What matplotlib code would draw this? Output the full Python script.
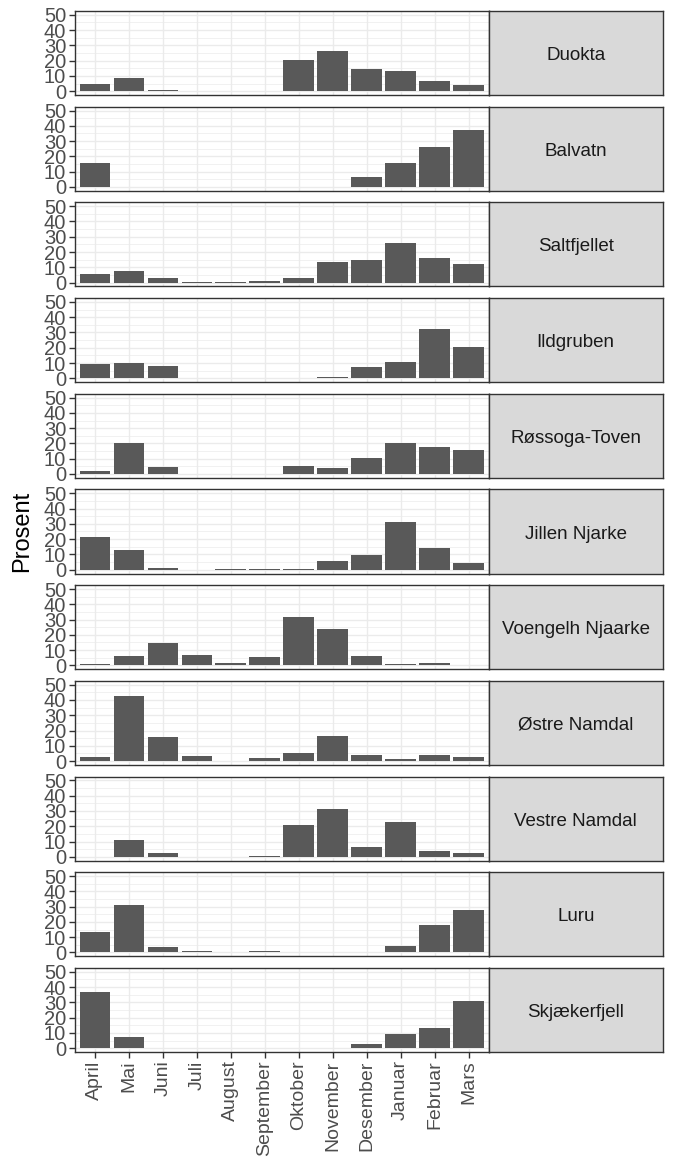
import numpy as np
import matplotlib
matplotlib.use('Agg')
import matplotlib.pyplot as plt

plt.rcParams['font.family'] = ['Liberation Sans', 'DejaVu Sans']

months = ['April', 'Mai', 'Juni', 'Juli', 'August', 'September', 'Oktober',
          'November', 'Desember', 'Januar', 'Februar', 'Mars']

sites = ['Duokta', 'Balvatn', 'Saltfjellet', 'Ildgruben', 'Røssoga-Toven',
         'Jillen Njarke', 'Voengelh Njaarke', 'Østre Namdal', 'Vestre Namdal',
         'Luru', 'Skjækerfjell']

duokta        = [4.6, 8.8, 0.7, 0, 0, 0, 20.5, 26.4, 14.5, 13.2, 6.6, 4.0]
balvatn       = [15.9, 0, 0, 0, 0, 0, 0, 0, 6.6, 15.9, 26.0, 37.0]
saltfjellet   = [5.3, 7.3, 3.3, 0.7, 0.7, 1.3, 3.3, 13.2, 14.5, 25.8, 15.9, 11.9]
ildgruben     = [9.3, 9.9, 7.9, 0, 0, 0, 0, 0.7, 7.3, 10.6, 32.4, 20.5]
rossoga_toven = [2.0, 20.5, 4.6, 0, 0, 0, 5.3, 4.0, 10.6, 20.5, 17.8, 15.9]
jillen_njarke = [21.1, 12.6, 1.3, 0, 0.7, 0.7, 0.7, 5.9, 9.3, 31.1, 14.5, 4.6]
voengelh      = [0.7, 5.9, 14.5, 6.6, 1.3, 5.3, 31.7, 23.8, 5.9, 0.7, 1.3, 0]
ostre_namdal  = [2.6, 42.3, 15.9, 3.3, 0, 2.0, 5.3, 16.5, 4.0, 1.3, 4.0, 2.6]
vestre_namdal = [0, 11.2, 2.6, 0, 0, 0.7, 20.5, 31.1, 6.6, 23.1, 4.0, 2.6]
luru          = [13.2, 31.1, 3.3, 0.7, 0, 0.7, 0, 0, 0, 4.0, 17.8, 27.8]
skjaekerfjell = [37.0, 7.3, 0, 0, 0, 0, 0, 0, 2.6, 9.3, 13.2, 31.1]

data = [duokta, balvatn, saltfjellet, ildgruben, rossoga_toven, jillen_njarke,
        voengelh, ostre_namdal, vestre_namdal, luru, skjaekerfjell]

W, H = 674, 1167
fig = plt.figure(figsize=(W / 100, H / 100), dpi=100)
fig.patch.set_facecolor('white')

left, panel_right, strip_right = 74.5, 489.0, 662.5
top0, ph = 11.0, 84.0
step = (1052.0 - top0 - ph) / (len(sites) - 1)

x = np.arange(1, len(months) + 1)
border = '#333333'

for i, (name, vals) in enumerate(zip(sites, data)):
    top = top0 + i * step
    ax = fig.add_axes([left / W, 1 - (top + ph) / H, (panel_right - left) / W, ph / H])
    ax.bar(x, vals, width=0.9, color='#595959', zorder=2)
    ax.set_xlim(0.4, 12.6)
    ax.set_ylim(-2.5, 52.5)
    ax.set_yticks([0, 10, 20, 30, 40, 50])
    ax.set_yticks(np.arange(5, 50, 10), minor=True)
    ax.set_xticks(x)
    ax.grid(which='major', color='#EBEBEB', lw=1.0, zorder=0)
    ax.grid(which='minor', axis='y', color='#EBEBEB', lw=0.5, zorder=0)
    ax.set_axisbelow(True)
    for s in ax.spines.values():
        s.set_color(border)
        s.set_linewidth(1.0)
        s.set_zorder(3)
    ax.tick_params(axis='y', which='major', length=4, width=1, color=border,
                   labelcolor='#4D4D4D', labelsize=14.5, pad=2)
    ax.tick_params(axis='both', which='minor', length=0)
    if i == len(sites) - 1:
        ax.set_xticklabels(months, rotation=90)
        ax.tick_params(axis='x', which='major', length=4, width=1, color=border,
                       labelcolor='#4D4D4D', labelsize=14, pad=2)
    else:
        ax.tick_params(axis='x', which='major', length=0, labelbottom=False)

    sax = fig.add_axes([panel_right / W, 1 - (top + ph) / H,
                        (strip_right - panel_right) / W, ph / H])
    sax.set_facecolor('#D9D9D9')
    sax.set_xticks([])
    sax.set_yticks([])
    for s in sax.spines.values():
        s.set_color(border)
        s.set_linewidth(1.0)
    sax.text(0.5, 0.47, name, ha='center', va='center', fontsize=13.5,
             color='#1A1A1A', transform=sax.transAxes)

fig.text(22 / W, 1 - 531.5 / H, 'Prosent', rotation=90, ha='center', va='center',
         fontsize=17, color='black')

fig.savefig('out.png', dpi=100, facecolor='white')
